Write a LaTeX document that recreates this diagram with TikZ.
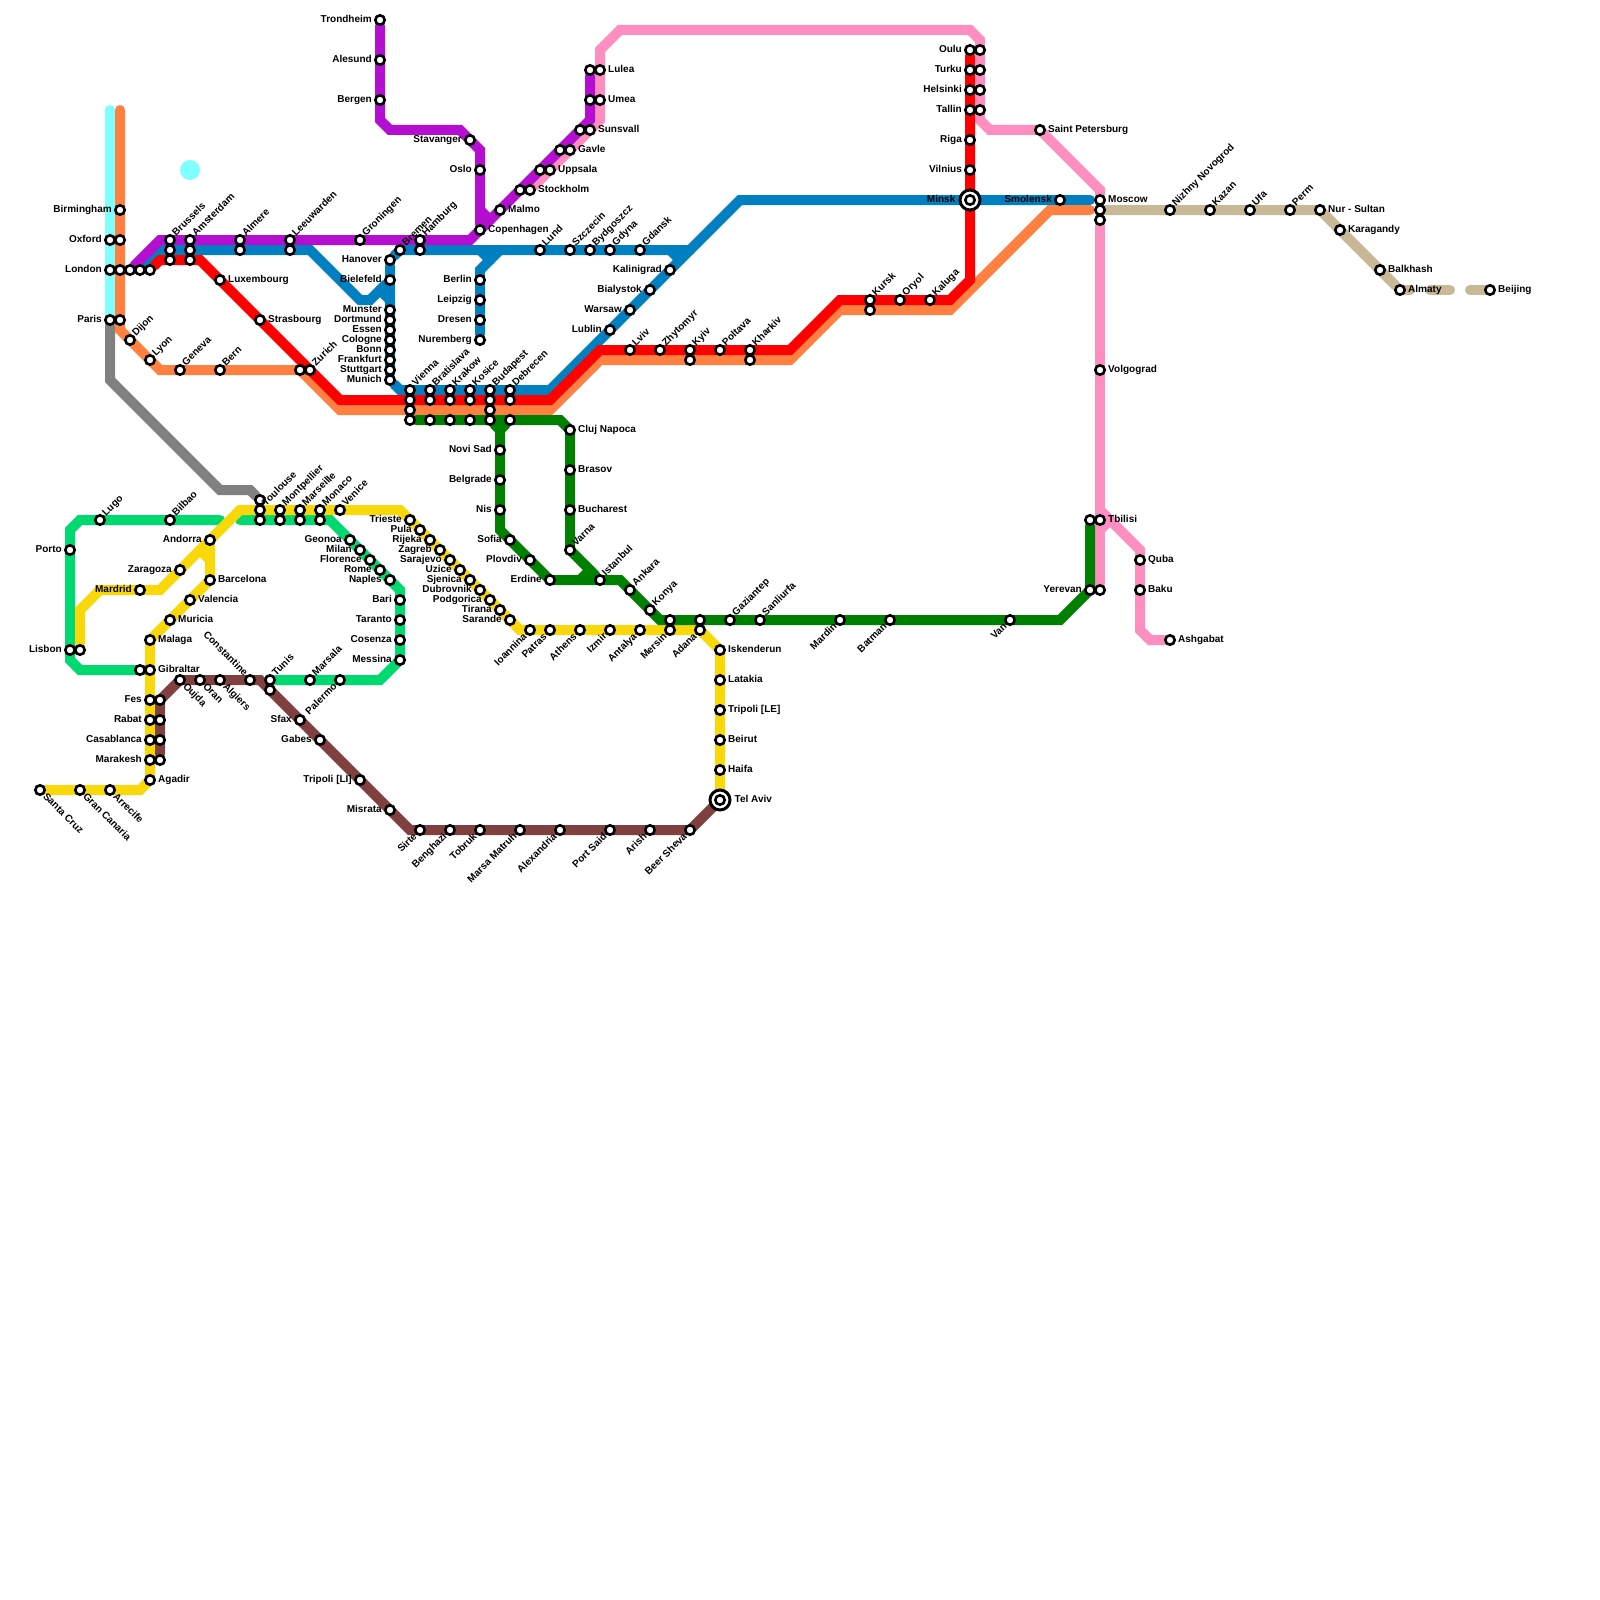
\documentclass[tikz,border=0pt]{standalone}
\usepackage{fontspec}
\usepackage{xcolor}
\setmainfont{Liberation Sans}
\usetikzlibrary{
    backgrounds
}
\definecolor{lineRed}{RGB}{255,0,0}
\definecolor{lineOrange}{RGB}{255,128,64}
\definecolor{lineBlue}{RGB}{0,128,192}
\definecolor{linePurple}{RGB}{180,15,208}
\definecolor{linePink}{RGB}{255,142,192}
\definecolor{lineCyan}{RGB}{128,255,255}
\definecolor{lineGray}{RGB}{128,128,128}
\definecolor{lineYellow}{RGB}{248,216,8}
\definecolor{lineGreen}{RGB}{0,128,0}
\definecolor{lineSpring}{RGB}{0,216,112}
\definecolor{lineBrown}{RGB}{128,64,64}
\definecolor{lineTan}{RGB}{200,184,150}
\tikzset{
  stn/.style      = {circle, draw=black, fill=white, line width=2.6pt,
                     minimum size=9.4pt, inner sep=0pt},
  stnring/.style  = {circle, draw=black, fill=white, line width=3pt,
                     minimum size=20pt, inner sep=0pt},
  lab/.style      = {font=\bfseries\fontsize{10}{12}\selectfont, inner sep=0pt,
                     text height=7pt, text depth=2pt},
  tright/.style   = {label={[lab, anchor=west, label distance=2pt]0:#1}},
  tleft/.style    = {label={[lab, anchor=east, label distance=2pt]180:#1}},
  tup/.style      = {label={[lab, anchor=west, rotate=45, label distance=1pt]45:#1}},
  tdown/.style    = {label={[lab, anchor=west, rotate=-45, label distance=1pt]-45:#1}},
  tunder/.style   = {label={[lab, anchor=east, rotate=45, label distance=1pt]225:#1}},
  tover/.style    = {label={[lab, anchor=east, rotate=-45, label distance=1pt]135:#1}},
  mline/.style    = {line width=10pt, line cap=round}
}

\begin{document}
\begin{tikzpicture}[x=1pt, y=-1pt]
    \useasboundingbox (0,0) rectangle (1600,1600);

    % britain and france
    \node[stn, tleft=Birmingham] (birmingham) at (120,210) {};
    \node[stn, tleft=Oxford] (oxford) at (110,240) {};
    \node[stn] (oxfordb) at (120,240) {};
    \node[stn, tleft=London] (london) at (110,270) {};
    \node[stn] (londonb) at (120,270) {};
    \node[stn] (londonc) at (130,270) {};
    \node[stn] (londond) at (140,270) {};
    \node[stn] (londone) at (150,270) {};
    \node[stn, tleft=Paris] (paris) at (110,320) {};
    \node[stn] (parisb) at (120,320) {};
    \node[stn, tup=Dijon] (dijon) at (130,340) {};
    \node[stn, tup=Lyon] (lyon) at (150,360) {};
    \node[stn, tup=Geneva] (geneva) at (180,370) {};
    \node[stn, tup=Bern] (bern) at (220,370) {};
    \node[stn] (zurichb) at (300,370) {};
    \node[stn, tup=Zurich] (zurich) at (310,370) {};
    \node[stn, tright=Luxembourg] (luxembourg) at (220,280) {};
    \node[stn, tright=Strasbourg] (strasbourg) at (260,320) {};

    % low countries and germany
    \node[stn, tup=Brussels] (brussels) at (170,240) {};
    \node[stn] (brusselsb) at (170,250) {};
    \node[stn] (brusselsc) at (170,260) {};
    \node[stn, tup=Amsterdam] (amsterdam) at (190,240) {};
    \node[stn] (amsterdamb) at (190,250) {};
    \node[stn] (amsterdamc) at (190,260) {};
    \node[stn, tup=Almere] (almere) at (240,240) {};
    \node[stn] (almereb) at (240,250) {};
    \node[stn, tup=Leeuwarden] (leeuwarden) at (290,240) {};
    \node[stn] (leeuwardenb) at (290,250) {};
    \node[stn, tup=Groningen] (groningen) at (360,240) {};
    \node[stn, tup=Bremen] (bremen) at (400,250) {};
    \node[stn, tup=Hamburg] (hamburg) at (420,240) {};
    \node[stn] (hamburgb) at (420,250) {};
    \node[stn, tleft=Hanover] (hanover) at (390,260) {};
    \node[stn, tleft=Bielefeld] (bielefeld) at (390,280) {};
    \node[stn, tleft=Munster] (munster) at (390,310) {};
    \node[stn, tleft=Dortmund] (dortmund) at (390,320) {};
    \node[stn, tleft=Essen] (essen) at (390,330) {};
    \node[stn, tleft=Cologne] (cologne) at (390,340) {};
    \node[stn, tleft=Bonn] (bonn) at (390,350) {};
    \node[stn, tleft=Frankfurt] (frankfurt) at (390,360) {};
    \node[stn, tleft=Stuttgart] (stuttgart) at (390,370) {};
    \node[stn, tleft=Munich] (munich) at (390,380) {};
    \node[stn, tleft=Berlin] (berlin) at (480,280) {};
    \node[stn, tleft=Leipzig] (leipzig) at (480,300) {};
    \node[stn, tleft=Dresen] (dresen) at (480,320) {};
    \node[stn, tleft=Nuremberg] (nuremberg) at (480,340) {};

    % scandinavia
    \node[stn, tleft=Trondheim] (trondheim) at (380,20) {};
    \node[stn, tleft=Alesund] (alesund) at (380,60) {};
    \node[stn, tleft=Bergen] (bergen) at (380,100) {};
    \node[stn, tleft=Stavanger] (stavanger) at (470,140) {};
    \node[stn, tleft=Oslo] (oslo) at (480,170) {};
    \node[stn, tright=Copenhagen] (copenhagen) at (480,230) {};
    \node[stn, tright=Malmo] (malmo) at (500,210) {};
    \node[stn] (stockholm) at (520,190) {};
    \node[stn, tright=Stockholm] (stockholmb) at (530,190) {};
    \node[stn] (uppsala) at (540,170) {};
    \node[stn, tright=Uppsala] (uppsalab) at (550,170) {};
    \node[stn] (gavle) at (560,150) {};
    \node[stn, tright=Gavle] (gavleb) at (570,150) {};
    \node[stn] (sunsvall) at (580,130) {};
    \node[stn, tright=Sunsvall] (sunsvallb) at (590,130) {};
    \node[stn] (umea) at (590,100) {};
    \node[stn, tright=Umea] (umeab) at (600,100) {};
    \node[stn] (lulea) at (590,70) {};
    \node[stn, tright=Lulea] (luleab) at (600,70) {};

    % baltic coast
    \node[stn, tup=Lund] (lund) at (540,250) {};
    \node[stn, tup=Szczecin] (szczecin) at (570,250) {};
    \node[stn, tup=Bydgoszcz] (bydgoszcz) at (590,250) {};
    \node[stn, tup=Gdyna] (gdyna) at (610,250) {};
    \node[stn, tup=Gdansk] (gdansk) at (640,250) {};
    \node[stn, tleft=Kalinigrad] (kalinigrad) at (670,270) {};
    \node[stn, tleft=Bialystok] (bialystok) at (650,290) {};
    \node[stn, tleft=Warsaw] (warsaw) at (630,310) {};
    \node[stn, tleft=Lublin] (lublin) at (610,330) {};

    % central europe
    \node[stn, tup=Vienna] (vienna) at (410,390) {};
    \node[stn] (viennab) at (410,400) {};
    \node[stn] (viennac) at (410,410) {};
    \node[stn] (viennad) at (410,420) {};
    \node[stn, tup=Bratislava] (bratislava) at (430,390) {};
    \node[stn] (bratislavab) at (430,400) {};
    \node[stn] (bratislavad) at (430,420) {};
    \node[stn, tup=Krakow] (krakow) at (450,390) {};
    \node[stn] (krakowb) at (450,400) {};
    \node[stn] (krakowd) at (450,420) {};
    \node[stn, tup=Kosice] (kosice) at (470,390) {};
    \node[stn] (kosiceb) at (470,400) {};
    \node[stn] (kosiced) at (470,420) {};
    \node[stn, tup=Budapest] (budapest) at (490,390) {};
    \node[stn] (budapestb) at (490,400) {};
    \node[stn] (budapestc) at (490,410) {};
    \node[stn] (budapestd) at (490,420) {};
    \node[stn, tup=Debrecen] (debrecen) at (510,390) {};
    \node[stn] (debrecenb) at (510,400) {};
    \node[stn] (debrecend) at (510,420) {};

    % ukraine and russia
    \node[stn, tup=Lviv] (lviv) at (630,350) {};
    \node[stn, tup=Zhytomyr] (zhytomyr) at (660,350) {};
    \node[stn, tup=Kyiv] (kyiv) at (690,350) {};
    \node[stn] (kyivb) at (690,360) {};
    \node[stn, tup=Poltava] (poltava) at (720,350) {};
    \node[stn, tup=Kharkiv] (kharkiv) at (750,350) {};
    \node[stn] (kharkivb) at (750,360) {};
    \node[stn, tup=Kursk] (kursk) at (870,300) {};
    \node[stn] (kurskb) at (870,310) {};
    \node[stn, tup=Oryol] (oryol) at (900,300) {};
    \node[stn, tup=Kaluga] (kaluga) at (930,300) {};
    \node[stn, tleft=Oulu] (oulu) at (970,50) {};
    \node[stn] (oulub) at (980,50) {};
    \node[stn, tleft=Turku] (turku) at (970,70) {};
    \node[stn] (turkub) at (980,70) {};
    \node[stn, tleft=Helsinki] (helsinki) at (970,90) {};
    \node[stn] (helsinkib) at (980,90) {};
    \node[stn, tleft=Tallin] (tallin) at (970,110) {};
    \node[stn] (tallinb) at (980,110) {};
    \node[stn, tleft=Riga] (riga) at (970,140) {};
    \node[stn, tleft=Vilnius] (vilnius) at (970,170) {};
    \node[stnring, label={[lab, anchor=east, label distance=3pt]180:Minsk}] (minskring) at (970,200) {};
    \node[stn] (minsk) at (970,200) {};
    \node[stn, tright={Saint Petersburg}] (petersburg) at (1040,130) {};
    \node[stn, tleft=Smolensk] (smolensk) at (1060,200) {};
    \node[stn, tright=Moscow] (moscow) at (1100,200) {};
    \node[stn] (moscowb) at (1100,210) {};
    \node[stn] (moscowc) at (1100,220) {};
    \node[stn, tright=Volgograd] (volgograd) at (1100,370) {};
    \node[stn] (tbilisib) at (1090,520) {};
    \node[stn, tright=Tbilisi] (tbilisi) at (1100,520) {};
    \node[stn, tleft=Yerevan] (yerevan) at (1090,590) {};
    \node[stn] (yerevanb) at (1100,590) {};
    \node[stn, tright=Quba] (quba) at (1140,560) {};
    \node[stn, tright=Baku] (baku) at (1140,590) {};
    \node[stn, tright=Ashgabat] (ashgabat) at (1170,640) {};

    % central asia
    \node[stn, tup={Nizhny Novogrod}] (nizhny) at (1170,210) {};
    \node[stn, tup=Kazan] (kazan) at (1210,210) {};
    \node[stn, tup=Ufa] (ufa) at (1250,210) {};
    \node[stn, tup=Perm] (perm) at (1290,210) {};
    \node[stn, tright={Nur - Sultan}] (nursultan) at (1320,210) {};
    \node[stn, tright=Karagandy] (karagandy) at (1340,230) {};
    \node[stn, tright=Balkhash] (balkhash) at (1380,270) {};
    \node[stn, tright=Almaty] (almaty) at (1400,290) {};
    \node[stn, tright=Beijing] (beijing) at (1490,290) {};

    % iberia
    \node[stn, tup=Lugo] (lugo) at (100,520) {};
    \node[stn, tup=Bilbao] (bilbao) at (170,520) {};
    \node[stn, tleft=Porto] (porto) at (70,550) {};
    \node[stn, tleft=Lisbon] (lisbon) at (70,650) {};
    \node[stn] (lisbonb) at (80,650) {};
    \node[stn, tleft=Mardrid] (mardrid) at (140,590) {};
    \node[stn, tleft=Zaragoza] (zaragoza) at (180,570) {};
    \node[stn, tleft=Andorra] (andorra) at (210,540) {};
    \node[stn, tright=Barcelona] (barcelona) at (210,580) {};
    \node[stn, tright=Valencia] (valencia) at (190,600) {};
    \node[stn, tright=Muricia] (muricia) at (170,620) {};
    \node[stn, tright=Malaga] (malaga) at (150,640) {};
    \node[stn] (gibraltarb) at (140,670) {};
    \node[stn, tright=Gibraltar] (gibraltar) at (150,670) {};

    % riviera and italy
    \node[stn] (toulouse) at (260,500) {};
    \node[stn, tup=Toulouse] (toulouseb) at (260,510) {};
    \node[stn] (toulousec) at (260,520) {};
    \node[stn, tup=Montpellier] (montpellier) at (280,510) {};
    \node[stn] (montpellierb) at (280,520) {};
    \node[stn, tup=Marseille] (marseille) at (300,510) {};
    \node[stn] (marseilleb) at (300,520) {};
    \node[stn, tup=Monaco] (monaco) at (320,510) {};
    \node[stn] (monacob) at (320,520) {};
    \node[stn, tup=Venice] (venice) at (340,510) {};
    \node[stn, tleft=Geonoa] (geonoa) at (350,540) {};
    \node[stn, tleft=Milan] (milan) at (360,550) {};
    \node[stn, tleft=Florence] (florence) at (370,560) {};
    \node[stn, tleft=Rome] (rome) at (380,570) {};
    \node[stn, tleft=Naples] (naples) at (390,580) {};
    \node[stn, tleft=Bari] (bari) at (400,600) {};
    \node[stn, tleft=Taranto] (taranto) at (400,620) {};
    \node[stn, tleft=Cosenza] (cosenza) at (400,640) {};
    \node[stn, tleft=Messina] (messina) at (400,660) {};
    \node[stn, tunder=Palermo] (palermo) at (340,680) {};
    \node[stn, tup=Marsala] (marsala) at (310,680) {};

    % balkans
    \node[stn, tleft=Trieste] (trieste) at (410,520) {};
    \node[stn, tleft=Pula] (pula) at (420,530) {};
    \node[stn, tleft=Rijeka] (rijeka) at (430,540) {};
    \node[stn, tleft=Zagreb] (zagreb) at (440,550) {};
    \node[stn, tleft=Sarajevo] (sarajevo) at (450,560) {};
    \node[stn, tleft=Uzice] (uzice) at (460,570) {};
    \node[stn, tleft=Sjenica] (sjenica) at (470,580) {};
    \node[stn, tleft=Dubrovnik] (dubrovnik) at (480,590) {};
    \node[stn, tleft=Podgorica] (podgorica) at (490,600) {};
    \node[stn, tleft=Tirana] (tirana) at (500,610) {};
    \node[stn, tleft=Sarande] (sarande) at (510,620) {};
    \node[stn, tleft={Novi Sad}] (novisad) at (500,450) {};
    \node[stn, tleft=Belgrade] (belgrade) at (500,480) {};
    \node[stn, tleft=Nis] (nis) at (500,510) {};
    \node[stn, tleft=Sofia] (sofia) at (510,540) {};
    \node[stn, tleft=Plovdiv] (plovdiv) at (530,560) {};
    \node[stn, tleft=Erdine] (erdine) at (550,580) {};
    \node[stn, tright={Cluj Napoca}] (cluj) at (570,430) {};
    \node[stn, tright=Brasov] (brasov) at (570,470) {};
    \node[stn, tright=Bucharest] (bucharest) at (570,510) {};
    \node[stn, tup=Varna] (varna) at (570,550) {};

    % greece and turkey
    \node[stn, tunder=Ioannina] (ioannina) at (530,630) {};
    \node[stn, tunder=Patras] (patras) at (550,630) {};
    \node[stn, tunder=Athens] (athens) at (580,630) {};
    \node[stn, tunder=Izmir] (izmir) at (610,630) {};
    \node[stn, tunder=Antalya] (antalya) at (640,630) {};
    \node[stn] (mersinb) at (670,620) {};
    \node[stn, tunder=Mersin] (mersin) at (670,630) {};
    \node[stn] (adanab) at (700,620) {};
    \node[stn, tunder=Adana] (adana) at (700,630) {};
    \node[stn, tup=Istanbul] (istanbul) at (600,580) {};
    \node[stn, tup=Ankara] (ankara) at (630,590) {};
    \node[stn, tup=Konya] (konya) at (650,610) {};
    \node[stn, tup=Gaziantep] (gaziantep) at (730,620) {};
    \node[stn, tup=Sanliurfa] (sanliurfa) at (760,620) {};
    \node[stn, tunder=Mardin] (mardin) at (840,620) {};
    \node[stn, tunder=Batman] (batman) at (890,620) {};
    \node[stn, tunder=Van] (van) at (1010,620) {};

    % levant
    \node[stn, tright=Iskenderun] (iskenderun) at (720,650) {};
    \node[stn, tright=Latakia] (latakia) at (720,680) {};
    \node[stn, tright={Tripoli [LE]}] (tripolile) at (720,710) {};
    \node[stn, tright=Beirut] (beirut) at (720,740) {};
    \node[stn, tright=Haifa] (haifa) at (720,770) {};
    \node[stnring, label={[lab, anchor=west, label distance=3pt]0:Tel Aviv}] (telavivring) at (720,800) {};
    \node[stn] (telaviv) at (720,800) {};

    % north africa
    \node[stn, tleft=Fes] (fes) at (150,700) {};
    \node[stn] (fesb) at (160,700) {};
    \node[stn, tleft=Rabat] (rabat) at (150,720) {};
    \node[stn] (rabatb) at (160,720) {};
    \node[stn, tleft=Casablanca] (casablanca) at (150,740) {};
    \node[stn] (casablancab) at (160,740) {};
    \node[stn, tleft=Marakesh] (marakesh) at (150,760) {};
    \node[stn] (marakeshb) at (160,760) {};
    \node[stn, tright=Agadir] (agadir) at (150,780) {};
    \node[stn, tdown={Santa Cruz}] (santacruz) at (40,790) {};
    \node[stn, tdown={Gran Canaria}] (grancanaria) at (80,790) {};
    \node[stn, tdown=Arrecife] (arrecife) at (110,790) {};
    \node[stn, tdown=Oujda] (oujda) at (180,680) {};
    \node[stn, tdown=Oran] (oran) at (200,680) {};
    \node[stn, tdown=Algiers] (algiers) at (220,680) {};
    \node[stn, tover=Constantine] (constantine) at (250,680) {};
    \node[stn, tup=Tunis] (tunis) at (270,680) {};
    \node[stn] (tunisb) at (270,690) {};
    \node[stn, tleft=Sfax] (sfax) at (300,720) {};
    \node[stn, tleft=Gabes] (gabes) at (320,740) {};
    \node[stn, tleft={Tripoli [LI]}] (tripolili) at (360,780) {};
    \node[stn, tleft=Misrata] (misrata) at (390,810) {};
    \node[stn, tunder=Sirte] (sirte) at (420,830) {};
    \node[stn, tunder=Benghazi] (benghazi) at (450,830) {};
    \node[stn, tunder=Tobruk] (tobruk) at (480,830) {};
    \node[stn, tunder={Marsa Matruh}] (marsamatruh) at (520,830) {};
    \node[stn, tunder=Alexandria] (alexandria) at (560,830) {};
    \node[stn, tunder={Port Said}] (portsaid) at (610,830) {};
    \node[stn, tunder=Arish] (arish) at (650,830) {};
    \node[stn, tunder={Beer Sheva}] (beersheva) at (690,830) {};

    % free line ends
    \coordinate (cyantop) at (110,110);
    \coordinate (orangetop) at (120,110);
    \coordinate (orangeend) at (1090,210);
    \coordinate (blueend) at (1090,200);
    \coordinate (springa) at (220,520);
    \coordinate (springb) at (240,520);
    \coordinate (tana) at (1410,290);
    \coordinate (tanb) at (1430,290);
    \coordinate (tanc) at (1450,290);
    \coordinate (tand) at (1470,290);

    \begin{scope}[on background layer]
      \fill[white] (0,0) rectangle (1600,1600);
      \node[circle, fill=lineCyan, minimum size=20pt, inner sep=0pt] (cyandot) at (190,170) {};
      \draw[mline, lineGray] (paris) -- (110,380) -- (220,490) -- (250,490) -- (toulouse);
      \draw[mline, lineCyan] (cyantop) -- (paris);

      % blue
      \draw[mline, lineBlue] (londond) -- (160,250) -- (310,250) -- (360,300) -- (370,300) -- (bielefeld);
      \draw[mline, lineBlue] (hanover) -- (munich) -- (400,390) -- (550,390) -- (740,200) -- (blueend);
      \draw[mline, lineBlue] (hanover) -- (400,250) -- (690,250);
      \draw[mline, lineBlue] (nuremberg) -- (480,270) -- (500,250);
      \draw[mline, lineBlue] (480,250) -- (490,260);
      \draw[mline, lineBlue] (670,250) -- (680,260);
      \draw[mline, lineBlue] (380,290) -- (390,300);

      % orange and red
      \draw[mline, lineOrange] (orangetop) -- (120,330) -- (160,370) -- (300,370) -- (340,410) -- (550,410)
        -- (600,360) -- (790,360) -- (840,310) -- (950,310) -- (1050,210) -- (orangeend);
      \draw[mline, lineRed] (londone) -- (160,260) -- (200,260) -- (340,400) -- (550,400) -- (600,350)
        -- (790,350) -- (840,300) -- (950,300) -- (970,280) -- (oulu);

      % pink
      \draw[mline, linePink] (stockholmb) -- (600,120) -- (600,50) -- (620,30) -- (970,30) -- (980,40)
        -- (980,120) -- (990,130) -- (1040,130) -- (1100,190) -- (moscow);
      \draw[mline, linePink] (moscowc) -- (yerevanb);
      \draw[mline, linePink] (1100,510) -- (1140,550) -- (1140,630) -- (1150,640) -- (ashgabat);
      \draw[mline, linePink] (1100,530) -- (1110,520);

      % purple
      \draw[mline, linePurple] (londonc) -- (160,240) -- (470,240) -- (590,120) -- (lulea);
      \draw[mline, linePurple] (trondheim) -- (380,120) -- (390,130) -- (460,130) -- (480,150) -- (copenhagen);
      \draw[mline, linePurple] (480,210) -- (490,220);

      % spring green
      \draw[mline, lineSpring] (springa) -- (80,520) -- (70,530) -- (70,660) -- (80,670) -- (gibraltar);
      \draw[mline, lineSpring] (springb) -- (330,520) -- (400,590) -- (400,660) -- (380,680) -- (tunis);

      % yellow
      \draw[mline, lineYellow] (santacruz) -- (140,790) -- (150,780) -- (150,640) -- (210,580) -- (andorra);
      \draw[mline, lineYellow] (lisbonb) -- (80,610) -- (100,590) -- (160,590) -- (240,510) -- (400,510)
        -- (520,630) -- (700,630) -- (720,650) -- (telaviv);
      \draw[mline, lineYellow] (200,550) -- (210,560);

      % green
      \draw[mline, lineGreen] (viennad) -- (560,420) -- (570,430) -- (570,550) -- (istanbul);
      \draw[mline, lineGreen] (budapestd) -- (500,430) -- (500,530) -- (550,580) -- (620,580) -- (660,620)
        -- (1060,620) -- (1090,590) -- (tbilisib);
      \draw[mline, lineGreen] (debrecend) -- (500,430);
      \draw[mline, lineGreen] (580,580) -- (590,570);

      % brown
      \draw[mline, lineBrown] (marakeshb) -- (160,700) -- (180,680) -- (260,680) -- (410,830) -- (690,830) -- (telaviv);

      % tan
      \draw[mline, lineTan] (moscowb) -- (1320,210) -- (almaty);
      \draw[mline, lineTan] (almaty) -- (tana);
      \draw[mline, lineTan] (tanb) -- (tanc);
      \draw[mline, lineTan] (tand) -- (beijing);
    \end{scope}
\end{tikzpicture}
\end{document}
